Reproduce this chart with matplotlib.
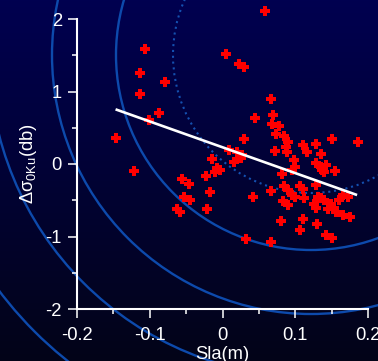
import matplotlib.pyplot as plt
import numpy as np
from matplotlib.patches import Circle

# sea level anomaly (m) vs Ku-band backscatter anomaly (dB)
sla = [
    0.059, -0.106, 0.005, 0.022, 0.030, -0.113, -0.079, -0.113, 0.066, -0.087,
    -0.101, 0.045, -0.146, 0.030, -0.122, 0.150, 0.186,
    0.009, 0.020, 0.027, 0.016, 0.025, -0.014, -0.007, -0.003, -0.010, -0.023,
    -0.055, -0.046, -0.053, -0.045, -0.063, -0.058,
    -0.017, -0.021, 0.042, 0.066, 0.032, 0.066, 0.081,
    0.082, 0.084, 0.090, 0.106, 0.110, 0.096, 0.100, 0.112, 0.083, 0.090, 0.128,
    0.126, 0.128, 0.131, 0.136, 0.140, 0.145, 0.149, 0.153, 0.156, 0.160,
    0.166, 0.172, 0.165, 0.175, 0.110, 0.130, 0.107, 0.142, 0.151,
    0.070, 0.068, 0.078, 0.074, 0.084, 0.090, 0.087, 0.072, 0.089, 0.110,
    0.116, 0.129, 0.135, 0.098, 0.100, 0.096, 0.129, 0.135, 0.137, 0.142,
    0.139, 0.155,
]
dsigma = [
    2.11, 1.59, 1.52, 1.38, 1.34, 1.26, 1.13, 0.97, 0.90, 0.70,
    0.61, 0.64, 0.36, 0.35, -0.09, 0.35, 0.31,
    0.19, 0.17, 0.12, 0.03, 0.08, 0.065, -0.06, -0.08, -0.11, -0.16,
    -0.20, -0.27, -0.45, -0.49, -0.62, -0.66,
    -0.38, -0.625, -0.46, -0.37, -1.03, -1.07, -0.78,
    -0.14, -0.31, -0.36, -0.30, -0.34, -0.43, -0.46, -0.47, -0.51, -0.56, -0.29,
    -0.55, -0.60, -0.45, -0.47, -0.50, -0.62, -0.55, -0.61, -0.66, -0.50,
    -0.43, -0.46, -0.70, -0.73, -0.76, -0.83, -0.91, -0.98, -1.02,
    0.68, 0.55, 0.52, 0.41, 0.38, 0.31, 0.24, 0.18, 0.17, 0.26,
    0.17, 0.28, 0.14, 0.05, -0.04, -0.08, 0.02, -0.04, -0.08, -0.01,
    -0.11, -0.10,
]

# linear fit endpoints
fit_sla = [-0.147, 0.185]
fit_dsigma = [0.754, -0.428]

xticks = [-0.2, -0.1, 0, 0.1, 0.2]
xtick_labels = ['-0.2', '-0.1', '0', '0.1', '0.2']
yticks = [-2, -1, 0, 1, 2]
ytick_labels = ['-2', '-1', '0', '1', '2']

# decorative rings behind the plot (pixel units)
ring_center = (311, 55)
ring_radii = [195, 259, 322, 391]
dotted_radius = 138

W, H = 378, 361

plt.rcParams['font.family'] = ['Liberation Sans', 'DejaVu Sans']
plt.rcParams['mathtext.fontset'] = 'custom'
plt.rcParams['mathtext.rm'] = 'Liberation Sans'
plt.rcParams['mathtext.default'] = 'regular'
plt.rcParams['axes.unicode_minus'] = False

fig = plt.figure(figsize=(W / 100, H / 100), dpi=100)

# background: navy-to-black gradient with rings
bg = fig.add_axes([0, 0, 1, 1])
top = np.array([0, 0, 80]) / 255
bottom = np.array([3, 4, 24]) / 255
t = np.linspace(0, 1, H)[:, None, None]
grad = top * (1 - t) + bottom * t
grad = np.repeat(grad, W, axis=1)
bg.imshow(grad, extent=[0, W, H, 0], aspect='auto', interpolation='bilinear')
for r in ring_radii:
    bg.add_patch(Circle(ring_center, r, fill=False, edgecolor='#0d4aac', lw=1.7))
bg.add_patch(Circle(ring_center, dotted_radius, fill=False, edgecolor='#1450b0',
                    lw=1.5, linestyle=(0, (1, 1.8))))
bg.set_xlim(0, W)
bg.set_ylim(H, 0)
bg.axis('off')

ax = fig.add_axes([77 / W, 1 - 309 / H, 291 / W, 290 / H])
ax.set_facecolor('none')

ax.scatter(sla, dsigma, marker='P', s=60, c='#ff0000', linewidths=0,
           clip_on=False, zorder=3)
ax.plot(fit_sla, fit_dsigma, color='white', lw=1.9, solid_capstyle='butt', zorder=4)

ax.set_xlim(-0.2, 0.2)
ax.set_ylim(-2, 2)
ax.set_xticks(xticks)
ax.set_xticklabels(xtick_labels)
ax.set_yticks(yticks)
ax.set_yticklabels(ytick_labels)
ax.set_xticks([-0.15, -0.05, 0.05, 0.15], minor=True)
ax.set_yticks([-1.5, -0.5, 0.5, 1.5], minor=True)

ax.spines[['top', 'right']].set_visible(False)
for s in ['left', 'bottom']:
    ax.spines[s].set_color('white')
    ax.spines[s].set_linewidth(1.5)

ax.tick_params(which='major', length=6.5, width=1.1, colors='white', labelsize=13.2)
ax.tick_params(which='minor', length=3.6, width=1.1, colors='white')
ax.tick_params(axis='x', which='major', pad=6.5)
ax.tick_params(axis='y', which='major', pad=4.3)

ax.set_xlabel('Sla(m)', color='white', fontsize=13.2)
ax.set_ylabel(r'$\Delta\sigma_{0Ku}$(db)', color='white', fontsize=13.2)
ax.xaxis.set_label_coords(0.5, -0.128)
ax.yaxis.set_label_coords(-0.13, 0.5)

fig.savefig('out.png', dpi=100)
